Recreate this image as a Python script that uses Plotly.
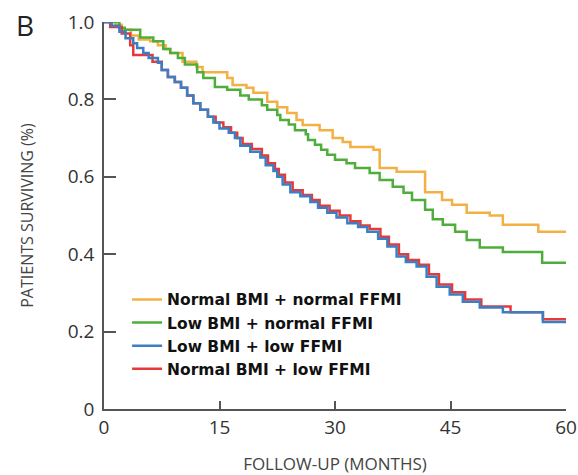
import plotly.graph_objects as go

# Kaplan-Meier style step data (months, survival proportion)
orange_t = [0, 1.5, 2.3, 3.5, 4.5, 6.0, 7.0, 8.0, 8.6, 10.2, 12.0, 12.8, 16.0, 16.7, 18.5, 19.4, 21.2, 22.5,
            23.8, 25.0, 25.8, 28.0, 29.7, 31.0, 32.0, 35.0, 35.8, 38.0, 41.7, 43.9, 45.2, 47.1, 50.1, 51.8,
            56.4, 60.0]
orange_s = [1.0, 0.993, 0.98, 0.965, 0.955, 0.95, 0.94, 0.93, 0.92, 0.897, 0.884, 0.87, 0.855, 0.837, 0.83,
            0.817, 0.794, 0.78, 0.765, 0.747, 0.734, 0.72, 0.70, 0.69, 0.677, 0.67, 0.623, 0.613, 0.56, 0.54,
            0.528, 0.507, 0.50, 0.476, 0.458, 0.458]

green_t = [0, 2.0, 2.7, 4.7, 6.4, 7.7, 8.6, 9.6, 10.5, 12.1, 12.9, 14.4, 16.0, 17.7, 18.8, 20.5, 21.2, 22.5,
           22.9, 24.0, 24.8, 26.2, 26.5, 27.4, 28.2, 29.0, 30.0, 31.5, 32.6, 34.5, 35.8, 37.5, 38.9, 40.0,
           41.7, 42.7, 44.0, 45.6, 47.1, 48.8, 51.8, 56.9, 60.0]
green_s = [1.0, 0.985, 0.98, 0.96, 0.95, 0.93, 0.92, 0.907, 0.89, 0.87, 0.855, 0.832, 0.825, 0.81, 0.80, 0.785,
           0.773, 0.76, 0.747, 0.735, 0.72, 0.71, 0.695, 0.683, 0.67, 0.657, 0.644, 0.635, 0.623, 0.61, 0.592,
           0.574, 0.559, 0.54, 0.515, 0.49, 0.476, 0.458, 0.437, 0.417, 0.406, 0.378, 0.378]

blue_t = [0, 1.0, 2.0, 2.8, 3.8, 4.3, 5.1, 5.8, 7.0, 7.5, 8.3, 9.2, 10.0, 10.8, 11.6, 12.5, 13.5, 14.2, 15.0,
          16.2, 17.0, 17.7, 19.0, 20.3, 21.0, 22.0, 22.5, 23.2, 24.2, 25.5, 26.8, 27.8, 29.0, 30.2, 31.6,
          33.0, 34.2, 35.6, 36.8, 38.0, 39.2, 40.6, 41.9, 43.2, 44.9, 46.6, 48.8, 51.8, 57.0, 60.0]
blue_s = [1.0, 0.99, 0.975, 0.958, 0.945, 0.933, 0.92, 0.907, 0.895, 0.876, 0.858, 0.845, 0.83, 0.81, 0.79,
          0.773, 0.755, 0.74, 0.725, 0.714, 0.70, 0.68, 0.665, 0.65, 0.63, 0.615, 0.60, 0.58, 0.56, 0.55,
          0.535, 0.52, 0.507, 0.495, 0.48, 0.47, 0.458, 0.44, 0.42, 0.394, 0.38, 0.368, 0.342, 0.316, 0.296,
          0.277, 0.262, 0.25, 0.225, 0.225]

red_t = [0, 0.8, 2.3, 3.4, 3.8, 6.3, 7.5, 8.3, 9.2, 10.0, 10.8, 11.6, 12.5, 13.5, 14.5, 15.5, 16.5, 17.3,
         18.0, 19.2, 20.5, 21.3, 22.2, 22.7, 23.5, 24.5, 25.8, 27.0, 28.0, 29.3, 30.6, 32.0, 33.3, 34.5,
         35.9, 37.0, 38.3, 39.5, 40.9, 42.2, 43.5, 45.2, 46.9, 49.0, 52.8, 57.0, 60.0]
red_s = [1.0, 0.987, 0.97, 0.94, 0.915, 0.897, 0.876, 0.858, 0.845, 0.83, 0.81, 0.79, 0.773, 0.755, 0.74,
         0.728, 0.714, 0.70, 0.685, 0.672, 0.655, 0.635, 0.62, 0.605, 0.585, 0.565, 0.553, 0.54, 0.525,
         0.512, 0.50, 0.485, 0.474, 0.465, 0.445, 0.425, 0.40, 0.385, 0.373, 0.348, 0.322, 0.302, 0.283,
         0.265, 0.25, 0.232, 0.232]

names = ["Normal BMI + normal FFMI", "Low BMI + normal FFMI", "Low BMI + low FFMI", "Normal BMI + low FFMI"]
x_ticks = [0, 15, 30, 45, 60]
y_ticks = [0, 0.2, 0.4, 0.6, 0.8, 1.0]
y_ticklabels = ["0", "0.2", "0.4", "0.6", "0.8", "1.0"]

series = [
    (orange_t, orange_s, names[0], "#f3b043", 1),
    (green_t, green_s, names[1], "#4fae3b", 2),
    (red_t, red_s, names[3], "#e63a3a", 4),
    (blue_t, blue_s, names[2], "#3a7fc4", 3),
]

fig = go.Figure()
for t, s, name, color, rank in series:
    fig.add_trace(go.Scatter(x=t, y=s, mode="lines", name=name, legendrank=rank,
                             line=dict(color=color, width=2.5, shape="hv"), cliponaxis=False))

fig.update_layout(
    width=578, height=475,
    margin=dict(l=104, r=12, t=22, b=66),
    paper_bgcolor="white", plot_bgcolor="white",
    font=dict(family="Open Sans", color="#333333"),
    showlegend=True,
    legend=dict(x=0.05, y=0.326, xanchor="left", yanchor="top", bgcolor="rgba(0,0,0,0)",
                font=dict(family="DejaVu Sans", size=15.5, color="#111111", weight="bold"),
                tracegroupgap=0, itemwidth=30),
    xaxis=dict(range=[0, 60], tickvals=x_ticks, ticks="inside", ticklen=8, tickwidth=1.5,
               tickcolor="#555555", showline=True, linecolor="#555555", linewidth=1.5,
               showgrid=False, zeroline=False, tickfont=dict(size=19, color="#333333"),
               automargin=False,
               title=dict(text="FOLLOW-UP (MONTHS)", font=dict(size=17, color="#444444"), standoff=24)),
    yaxis=dict(range=[0, 1.0], tickvals=y_ticks, ticktext=y_ticklabels, ticks="inside", ticklen=12,
               tickwidth=1.5, tickcolor="#555555", showline=True, linecolor="#555555", linewidth=1.5,
               showgrid=False, zeroline=False, tickfont=dict(size=19, color="#333333"),
               ticklabelstandoff=4, automargin=False,
               title=dict(text="PATIENTS SURVIVING (%)", font=dict(size=16, color="#444444"), standoff=30)),
    annotations=[dict(text="B", x=25, y=25, xref="paper", yref="paper", showarrow=False,
                      font=dict(size=28, color="#222222"))],
)
# position "B" in pixels relative to paper
fig.layout.annotations[0].update(x=(25 - 104) / 462, y=1 + (22 - 25) / 387, xanchor="center", yanchor="middle")

fig.write_html("out.html")
